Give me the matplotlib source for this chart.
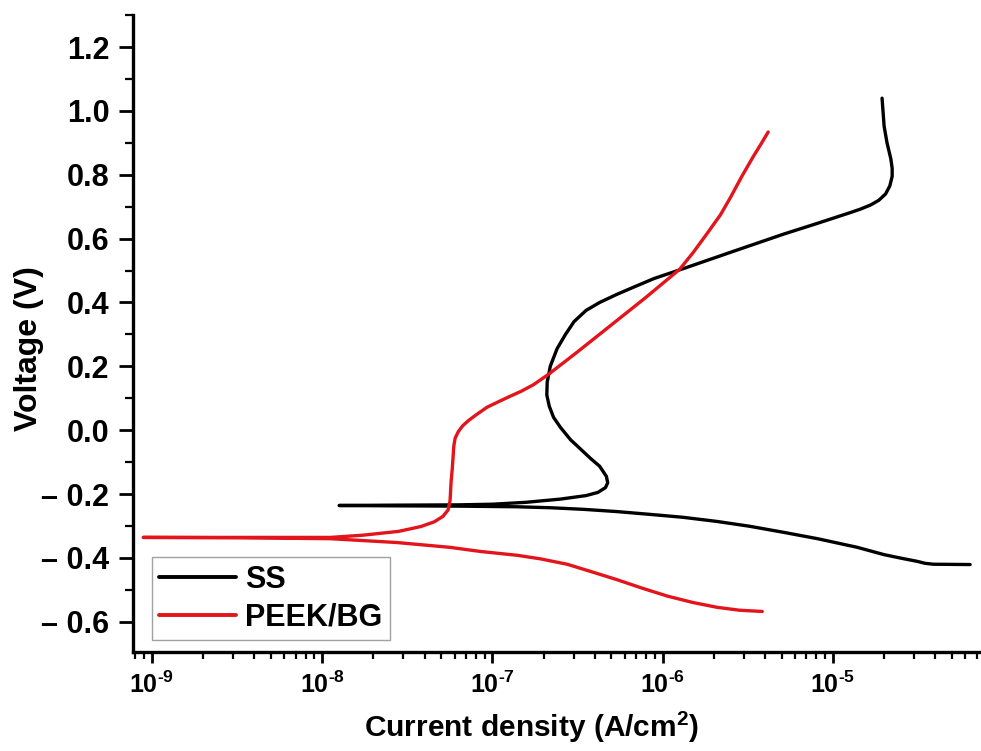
import math

import matplotlib
matplotlib.use("Agg")
import matplotlib.pyplot as plt
from matplotlib.ticker import FixedLocator, FuncFormatter, MultipleLocator, NullFormatter

plt.rcParams["font.family"] = ["Liberation Sans", "DejaVu Sans"]
plt.rcParams["font.weight"] = "bold"
plt.rcParams["mathtext.fontset"] = "custom"
plt.rcParams["mathtext.rm"] = "Liberation Sans:bold"
plt.rcParams["mathtext.it"] = "Liberation Sans:bold"
plt.rcParams["mathtext.bf"] = "Liberation Sans:bold"

# Polarisation scan, stainless steel: cathodic end -> Ecorr -> anodic end
ss_current = [
    6.40e-5, 3.89e-5, 3.47e-5, 3.13e-5, 2.51e-5, 2.00e-5, 1.39e-5, 8.13e-6,
    5.13e-6, 3.24e-6, 2.09e-6, 1.32e-6, 8.51e-7, 5.37e-7, 3.42e-7, 2.19e-7,
    1.40e-7, 6.31e-8, 2.51e-8, 1.26e-8,
    2.51e-8, 6.31e-8, 1.00e-7, 1.58e-7, 2.51e-7, 3.55e-7, 4.17e-7, 4.62e-7,
    4.76e-7, 4.68e-7, 4.27e-7, 3.80e-7, 3.31e-7, 2.88e-7, 2.51e-7, 2.29e-7,
    2.16e-7, 2.09e-7, 2.10e-7, 2.19e-7, 2.40e-7, 2.69e-7, 3.02e-7, 3.55e-7,
    4.27e-7, 5.37e-7, 6.76e-7, 8.91e-7, 1.29e-6, 2.63e-6, 5.13e-6, 8.13e-6,
    1.29e-5, 1.445e-5, 1.66e-5, 1.86e-5, 2.04e-5, 2.16e-5, 2.23e-5, 2.23e-5,
    2.19e-5, 2.08e-5, 2.00e-5, 1.945e-5,
]
ss_voltage = [
    -0.421, -0.420, -0.417, -0.411, -0.401, -0.390, -0.367, -0.340,
    -0.320, -0.301, -0.286, -0.273, -0.264, -0.255, -0.248, -0.243,
    -0.240, -0.238, -0.237, -0.236,
    -0.235, -0.234, -0.232, -0.226, -0.216, -0.205, -0.195, -0.180,
    -0.165, -0.145, -0.113, -0.090, -0.060, -0.030, 0.009, 0.040,
    0.075, 0.110, 0.150, 0.200, 0.255, 0.300, 0.340, 0.375,
    0.400, 0.425, 0.448, 0.475, 0.504, 0.561, 0.614, 0.648,
    0.683, 0.692, 0.705, 0.720, 0.740, 0.765, 0.795, 0.820,
    0.850, 0.900, 0.952, 1.040,
]

# PEEK/BG coating
peek_current = [
    3.85e-6, 2.82e-6, 2.09e-6, 1.51e-6, 1.07e-6, 7.59e-7, 5.37e-7, 3.80e-7,
    2.75e-7, 1.91e-7, 1.40e-7, 8.51e-8, 5.62e-8, 2.75e-8, 1.12e-8, 3.16e-9,
    8.91e-10,
    3.16e-9, 1.12e-8, 1.74e-8, 2.82e-8, 3.80e-8, 4.57e-8, 5.13e-8, 5.50e-8,
    5.65e-8, 5.69e-8, 5.73e-8, 5.82e-8, 5.89e-8, 5.94e-8, 6.05e-8, 6.31e-8,
    6.68e-8, 7.24e-8, 8.13e-8, 9.33e-8, 1.096e-7, 1.27e-7, 1.48e-7, 1.74e-7,
    2.14e-7, 3.16e-7, 5.01e-7, 7.94e-7, 1.26e-6, 1.51e-6, 1.82e-6, 2.19e-6,
    2.51e-6, 2.92e-6, 3.39e-6, 3.80e-6, 4.17e-6,
]
peek_voltage = [
    -0.568, -0.564, -0.555, -0.540, -0.520, -0.495, -0.468, -0.443,
    -0.420, -0.403, -0.392, -0.380, -0.367, -0.352, -0.340, -0.337,
    -0.336,
    -0.336, -0.336, -0.329, -0.317, -0.302, -0.287, -0.270, -0.250,
    -0.220, -0.190, -0.160, -0.120, -0.080, -0.050, -0.025, -0.005,
    0.013, 0.030, 0.050, 0.072, 0.090, 0.106, 0.122, 0.142,
    0.175, 0.245, 0.330, 0.415, 0.504, 0.556, 0.615, 0.675,
    0.730, 0.795, 0.855, 0.898, 0.934,
]

x_ticks = [1e-9, 1e-8, 1e-7, 1e-6, 1e-5]
x_minor_ticks = [m * 10.0 ** e for e in range(-10, -4) for m in range(2, 10)]
x_limits = (10 ** -9.11, 10 ** -4.13)
y_limits = (-0.695, 1.30)


def x_label(value, pos):
    exp = int(round(math.log10(value)))
    return r"$10^{\text{%d}}$" % exp


def y_label(value, pos):
    if value < -1e-9:
        return "\u2013 %.1f" % abs(value)
    return "%.1f" % abs(value)


fig = plt.figure(figsize=(9.81, 7.51), dpi=100)
ax = fig.add_axes([0.1356, 0.1318, 0.8644, 0.848])

ax.plot(ss_current, ss_voltage, color="black", lw=2.4, label="SS",
        solid_joinstyle="round", solid_capstyle="round")
ax.plot(peek_current, peek_voltage, color="#e3141b", lw=2.4, label="PEEK/BG",
        solid_joinstyle="round", solid_capstyle="round")

ax.set_xscale("log")
ax.set_xlim(*x_limits)
ax.set_ylim(*y_limits)

ax.xaxis.set_major_locator(FixedLocator(x_ticks))
ax.xaxis.set_minor_locator(FixedLocator(x_minor_ticks))
ax.xaxis.set_major_formatter(FuncFormatter(x_label))
ax.xaxis.set_minor_formatter(NullFormatter())
ax.yaxis.set_major_locator(MultipleLocator(0.2))
ax.yaxis.set_minor_locator(MultipleLocator(0.1))
ax.yaxis.set_major_formatter(FuncFormatter(y_label))

for side in ("top", "right"):
    ax.spines[side].set_visible(False)
for side in ("left", "bottom"):
    ax.spines[side].set_linewidth(2.4)

ax.tick_params(axis="x", which="major", direction="out", length=8, width=2,
               labelsize=18, pad=6)
ax.tick_params(axis="x", which="minor", direction="out", length=5, width=1.6)
ax.tick_params(axis="y", which="major", direction="out", length=10, width=2,
               labelsize=22, pad=7)
ax.tick_params(axis="y", which="minor", direction="out", length=6, width=1.6)

ax.set_xlabel(r"Current density (A/cm$^{2}$)", fontsize=21.5, fontweight="bold")
ax.set_ylabel("Voltage (V)", fontsize=23, fontweight="bold")
ax.xaxis.set_label_coords(0.47, -0.09)
ax.yaxis.set_label_coords(-0.105, 0.477)

leg = ax.legend(loc="lower left", bbox_to_anchor=(0.022, 0.019), fontsize=22,
                frameon=True, fancybox=False, handlelength=2.5,
                handletextpad=0.3, labelspacing=0.25, borderpad=0.25,
                borderaxespad=0.0)
leg.get_frame().set_edgecolor("#8a8a8a")
leg.get_frame().set_linewidth(1.0)
for line in leg.get_lines():
    line.set_linewidth(2.8)

fig.savefig("out.png", dpi=100)
